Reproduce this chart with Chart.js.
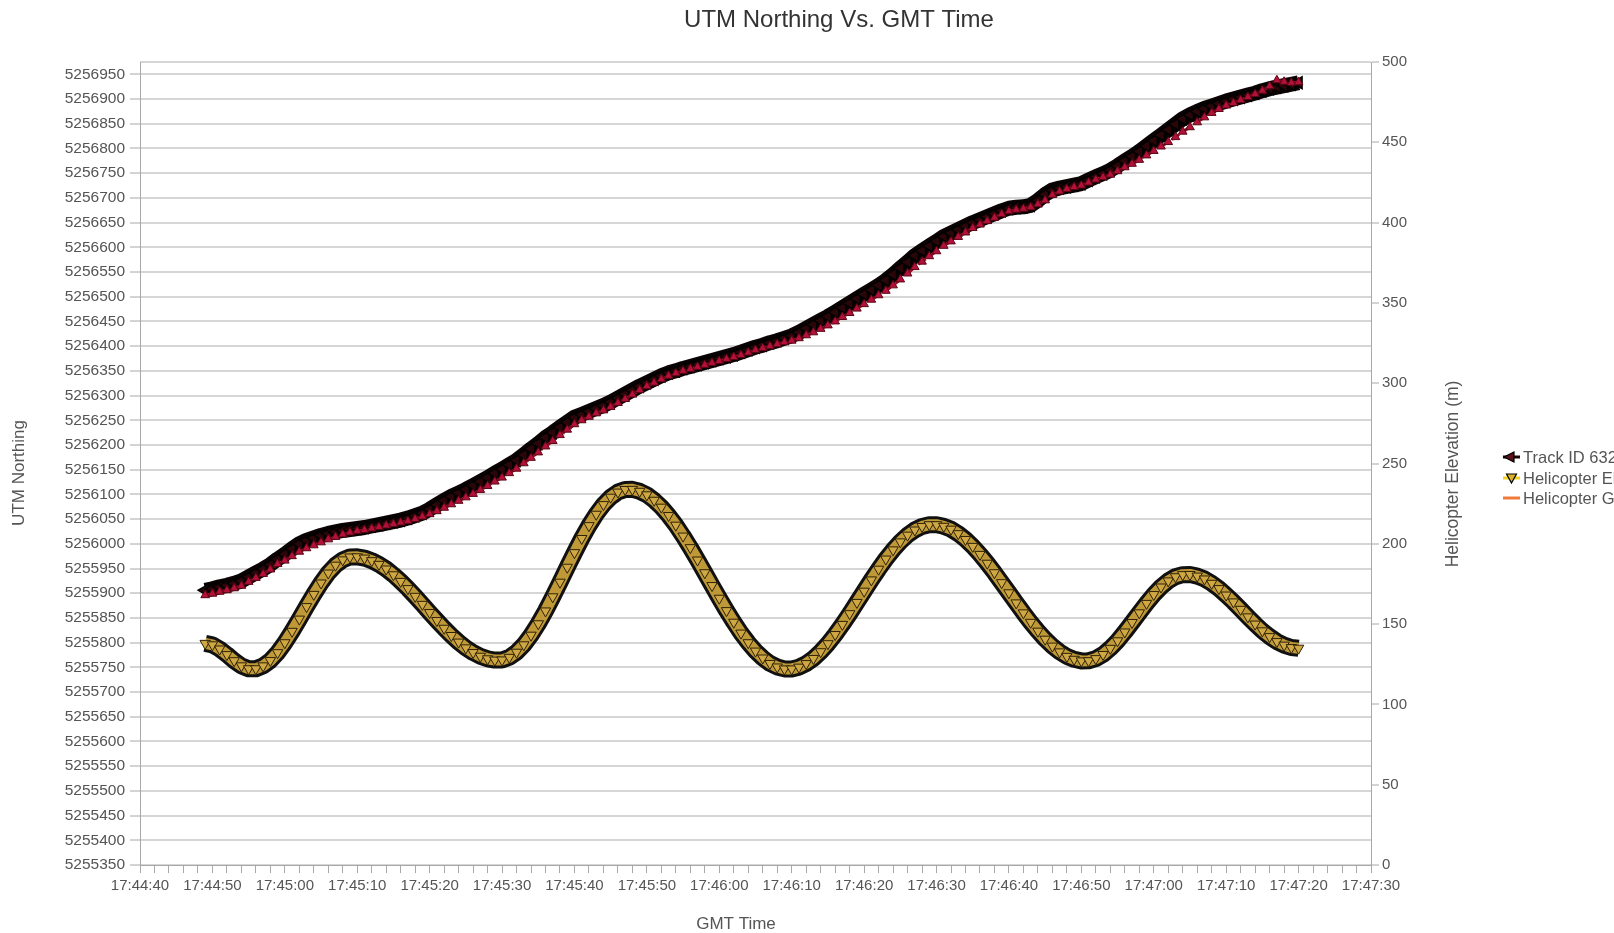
<!DOCTYPE html>
<html>
<head>
<meta charset="utf-8">
<title>UTM Northing Vs. GMT Time</title>
<script src="https://cdn.jsdelivr.net/npm/chart.js@4.4.1/dist/chart.umd.min.js"></script>
<style>
  html, body { margin: 0; padding: 0; background: #ffffff; overflow: hidden; }
  #wrap { width: 1614px; height: 933px; position: relative; }
</style>
</head>
<body>
<div id="wrap"><canvas id="c" width="1614" height="933"></canvas></div>
<script>
// ---------------- DATA ----------------
const chartTitle = 'UTM Northing Vs. GMT Time';
const xTitle = 'GMT Time';
const yLeftTitle = 'UTM Northing';
const yRightTitle = 'Helicopter Elevation (m)';
const seriesNames = ['Track ID 632', 'Helicopter Elevation', 'Helicopter GPS Northing'];

// axis ranges (seconds of day for time)
const xStart = '17:44:40';
const xEnd = '17:47:30';
const sampleStart = '17:44:49';   // first sample, one sample per second
const northingMin = 5255350, northingMax = 5256975, northingStep = 50;
const elevMin = 0, elevMax = 500, elevStep = 50;

// Track ID 632 - UTM northing (m)
const trackNorthing = [
5255906,5255909,5255913,5255916,5255920,5255925,5255933,5255941,5255949,5255958,
5255969,5255979,5255990,5256000,5256007,5256012,5256017,5256021,5256024,5256027,
5256029,5256031,5256033,5256036,5256039,5256042,5256045,5256048,5256052,5256057,
5256062,5256070,5256079,5256088,5256096,5256103,5256110,5256118,5256126,5256134,
5256143,5256151,5256160,5256169,5256180,5256192,5256203,5256215,5256225,5256236,
5256246,5256256,5256262,5256268,5256274,5256280,5256287,5256295,5256303,5256311,
5256319,5256326,5256333,5256340,5256346,5256350,5256355,5256359,5256363,5256367,
5256371,5256375,5256379,5256383,5256388,5256393,5256398,5256402,5256407,5256411,
5256416,5256421,5256428,5256436,5256444,5256452,5256460,5256469,5256478,5256487,
5256496,5256505,5256514,5256523,5256533,5256545,5256558,5256570,5256583,5256593,
5256603,5256612,5256622,5256629,5256636,5256643,5256650,5256656,5256662,5256668,
5256674,5256679,5256681,5256682,5256685,5256695,5256707,5256716,5256720,5256723,
5256726,5256729,5256736,5256743,5256749,5256756,5256765,5256775,5256784,5256794,
5256805,5256816,5256827,5256838,5256849,5256860,5256868,5256875,5256881,5256886,
5256891,5256896,5256900,5256904,5256908,5256912,5256917,5256921,5256924,5256927,
5256930,5256933
];

// Helicopter GPS northing (m)
const gpsNorthing = [
5255896,5255899,5255903,5255906,5255910,5255915,5255923,5255931,5255939,5255948,
5255959,5255966,5255975,5255984,5255991,5255997,5256003,5256009,5256014,5256019,
5256023,5256026,5256028,5256031,5256034,5256037,5256040,5256043,5256046,5256050,
5256055,5256060,5256066,5256073,5256080,5256087,5256094,5256101,5256109,5256117,
5256126,5256134,5256143,5256152,5256163,5256174,5256185,5256197,5256208,5256220,
5256231,5256242,5256250,5256257,5256264,5256270,5256277,5256285,5256293,5256302,
5256311,5256319,5256326,5256333,5256340,5256345,5256350,5256354,5256358,5256362,
5256366,5256370,5256374,5256378,5256382,5256387,5256392,5256396,5256400,5256404,
5256408,5256411,5256416,5256422,5256428,5256435,5256442,5256450,5256459,5256467,
5256476,5256485,5256494,5256503,5256512,5256523,5256535,5256547,5256560,5256571,
5256582,5256592,5256603,5256612,5256621,5256630,5256639,5256646,5256653,5256660,
5256667,5256673,5256676,5256678,5256681,5256687,5256695,5256706,5256713,5256718,
5256722,5256725,5256731,5256737,5256742,5256747,5256754,5256762,5256769,5256777,
5256786,5256795,5256804,5256813,5256823,5256834,5256843,5256853,5256863,5256872,
5256880,5256887,5256892,5256898,5256904,5256910,5256917,5256926,5256938,5256935,
5256933,5256934
];

// Helicopter elevation (m)
const elevation = [
138,137.1,134.5,131,127.2,124,122.2,
122.2,124,127.3,132.2,138.4,145.5,153.1,160.9,168.5,175.6,181.8,186.7,190,191.8,
191.9,191.1,189.5,187.2,184.3,180.7,176.6,172.1,167.3,162.3,157.2,152.2,147.4,142.9,138.8,135.2,132.3,130,128.4,127.6,
127.7,129.3,132.5,137.1,143.1,150.2,158.2,167,176.1,185.4,194.5,203.3,211.3,218.4,224.4,229,232.2,233.8,
233.9,232.7,230.5,227.1,222.8,217.6,211.6,204.8,197.6,189.9,182,174,166.1,158.4,151.2,144.4,138.4,133.2,128.9,125.5,123.3,122.1,
122.1,123.2,125.4,128.6,132.8,137.8,143.5,149.8,156.5,163.5,170.5,177.5,184.2,190.5,196.2,201.2,205.4,208.6,210.8,211.9,
211.9,210.9,209.1,206.3,202.7,198.4,193.4,187.9,182,175.8,169.5,163.2,157,151.1,145.6,140.6,136.3,132.7,129.9,128.1,127.1,
127.2,128.5,131.1,134.9,139.6,145.1,151,157,162.9,168.4,173.1,176.9,179.5,180.8,
180.9,179.9,178.1,175.4,172.1,168.1,163.8,159.2,154.5,150,145.8,142.2,139.1,136.9,135.4,135
];

// ---------------- HELPERS ----------------
function toSec(s) { const p = s.split(':').map(Number); return p[0] * 3600 + p[1] * 60 + p[2]; }
function fmtTime(v) {
  const h = Math.floor(v / 3600), m = Math.floor((v % 3600) / 60), s = Math.round(v % 60);
  const pad = n => (n < 10 ? '0' : '') + n;
  return h + ':' + pad(m) + ':' + pad(s);
}
const t0 = toSec(sampleStart);
const times = trackNorthing.map((_, i) => t0 + i);
const pts = arr => arr.map((v, i) => ({ x: times[i], y: v }));

const FONT = "'Liberation Sans', Arial, Helvetica, sans-serif";
const TICK_COLOR = '#555555';
const GRID_COLOR = '#d6d6d6';
const AXIS_COLOR = '#a8a8a8';

// ---------------- PLUGIN: band outlines ----------------
function strokeMetaPath(ctx, meta, color, width) {
  const p = meta.data;
  if (!p.length) return;
  ctx.beginPath();
  ctx.moveTo(p[0].x, p[0].y);
  for (let i = 1; i < p.length; i++) ctx.lineTo(p[i].x, p[i].y);
  ctx.strokeStyle = color;
  ctx.lineWidth = width;
  ctx.lineJoin = 'round';
  ctx.lineCap = 'butt';
  ctx.stroke();
}
const bandPlugin = {
  id: 'band',
  beforeDatasetDraw(chart, args) {
    const ds = chart.data.datasets[args.index];
    const ctx = chart.ctx;
    ctx.save();
    const a = chart.chartArea;
    ctx.beginPath(); ctx.rect(a.left, a.top, a.right - a.left, a.bottom - a.top); ctx.clip();
    if (ds.band === 'elev') {
      strokeMetaPath(ctx, args.meta, '#111111', 17);
      strokeMetaPath(ctx, args.meta, '#bf9838', 11);
    } else if (ds.band === 'track') {
      strokeMetaPath(ctx, args.meta, '#0a0203', 15);
    }
    ctx.restore();
  }
};

// ---------------- PLUGIN: title, axis titles, legend ----------------
const decorPlugin = {
  id: 'decor',
  afterDraw(chart) {
    const ctx = chart.ctx;
    ctx.save();
    ctx.textAlign = 'center';
    ctx.textBaseline = 'middle';
    // title
    ctx.fillStyle = '#333333';
    ctx.font = '24px ' + FONT;
    ctx.fillText(chartTitle, 839, 20);
    // x axis title
    ctx.fillStyle = '#555555';
    ctx.font = '17px ' + FONT;
    ctx.fillText(xTitle, 736, 924);
    // left axis title
    ctx.save();
    ctx.translate(19, 473);
    ctx.rotate(-Math.PI / 2);
    ctx.font = '17px ' + FONT;
    ctx.fillText(yLeftTitle, 0, 0);
    ctx.restore();
    // right axis title
    ctx.save();
    ctx.translate(1453, 474);
    ctx.rotate(-Math.PI / 2);
    ctx.font = '17.5px ' + FONT;
    ctx.fillText(yRightTitle, 0, 0);
    ctx.restore();
    // legend
    const items = [
      { y: 457, kind: 'track' },
      { y: 478, kind: 'elev' },
      { y: 498, kind: 'gps' }
    ];
    items.forEach((it, i) => {
      const x0 = 1503, x1 = 1520, cy = it.y;
      if (it.kind === 'track') {
        ctx.strokeStyle = '#1a0306'; ctx.lineWidth = 3;
        ctx.beginPath(); ctx.moveTo(x0, cy); ctx.lineTo(x1, cy); ctx.stroke();
        ctx.fillStyle = '#5c1018'; ctx.strokeStyle = '#000'; ctx.lineWidth = 1.2;
        ctx.beginPath(); ctx.moveTo(x0 + 1, cy); ctx.lineTo(x0 + 11, cy - 5); ctx.lineTo(x0 + 11, cy + 5); ctx.closePath();
        ctx.fill(); ctx.stroke();
      } else if (it.kind === 'elev') {
        ctx.strokeStyle = '#f2d21e'; ctx.lineWidth = 3;
        ctx.beginPath(); ctx.moveTo(x0, cy); ctx.lineTo(x1, cy); ctx.stroke();
        const cx = (x0 + x1) / 2;
        ctx.fillStyle = '#d9b02a'; ctx.strokeStyle = '#000'; ctx.lineWidth = 1.2;
        ctx.beginPath(); ctx.moveTo(cx - 5, cy - 4); ctx.lineTo(cx + 5, cy - 4); ctx.lineTo(cx, cy + 5); ctx.closePath();
        ctx.fill(); ctx.stroke();
      } else {
        ctx.strokeStyle = '#f07a3a'; ctx.lineWidth = 3;
        ctx.beginPath(); ctx.moveTo(x0, cy); ctx.lineTo(x1, cy); ctx.stroke();
      }
      ctx.fillStyle = '#555555';
      ctx.font = '16.5px ' + FONT;
      ctx.textAlign = 'left';
      ctx.textBaseline = 'middle';
      ctx.fillText(seriesNames[i], 1523, cy + 1);
    });
    ctx.restore();
  }
};

// ---------------- CHART ----------------
new Chart(document.getElementById('c'), {
  type: 'line',
  data: {
    datasets: [
      {
        label: seriesNames[2],
        data: pts(gpsNorthing),
        yAxisID: 'y',
        order: 0,
        borderColor: '#9e0f2c',
        borderWidth: 3,
        borderDash: [9, 6],
        pointStyle: 'triangle',
        pointRadius: 5,
        pointBackgroundColor: '#b3113a',
        pointBorderColor: '#5a0614',
        pointBorderWidth: 1,
        tension: 0
      },
      {
        label: seriesNames[0],
        band: 'track',
        data: pts(trackNorthing),
        yAxisID: 'y',
        order: 1,
        borderColor: '#000000',
        borderWidth: 6,
        pointStyle: 'triangle',
        rotation: -90,
        pointRadius: 7,
        pointBackgroundColor: '#2a0609',
        pointBorderColor: '#000000',
        pointBorderWidth: 1.5,
        tension: 0
      },
      {
        label: seriesNames[1],
        band: 'elev',
        data: pts(elevation),
        yAxisID: 'y1',
        order: 2,
        showLine: false,
        borderColor: '#000000',
        borderWidth: 0,
        pointStyle: 'triangle',
        rotation: 180,
        pointRadius: 6,
        pointBackgroundColor: '#cfa843',
        pointBorderColor: '#2e2206',
        pointBorderWidth: 1,
        tension: 0
      }
    ]
  },
  options: {
    responsive: false,
    animation: false,
    devicePixelRatio: 1,
    layout: { padding: { top: 62, right: 143, bottom: 0, left: 0 } },
    plugins: {
      legend: { display: false },
      title: { display: false },
      tooltip: { enabled: false }
    },
    scales: {
      x: {
        type: 'linear',
        position: 'bottom',
        min: toSec(xStart),
        max: toSec(xEnd),
        afterFit(scale) { scale.height = 68; },
        grid: { drawOnChartArea: false, drawTicks: true, tickLength: 8, tickColor: AXIS_COLOR },
        border: { display: true, color: AXIS_COLOR, width: 1 },
        ticks: {
          stepSize: 2,
          autoSkip: false,
          maxRotation: 0,
          minRotation: 0,
          padding: 4,
          color: TICK_COLOR,
          font: { family: FONT, size: 15 },
          callback: v => (Math.round(v) % 10 === 0 ? fmtTime(v) : '')
        },
        title: { display: false }
      },
      y: {
        type: 'linear',
        position: 'left',
        min: northingMin,
        max: northingMax,
        afterFit(scale) { scale.width = 140; },
        grid: { color: GRID_COLOR, lineWidth: 2, drawTicks: true, tickLength: 10, tickColor: AXIS_COLOR, tickWidth: 1 },
        border: { display: true, color: AXIS_COLOR, width: 1 },
        ticks: {
          stepSize: northingStep,
          includeBounds: false,
          autoSkip: false,
          padding: 5,
          color: TICK_COLOR,
          font: { family: FONT, size: 15.5 },
          callback: v => String(v)
        },
        title: { display: false }
      },
      y1: {
        type: 'linear',
        position: 'right',
        min: elevMin,
        max: elevMax,
        afterFit(scale) { scale.width = 100; },
        grid: {
          drawOnChartArea: true,
          color: c => (c.tick && c.tick.value === elevMax ? GRID_COLOR : 'rgba(0,0,0,0)'),
          lineWidth: 2,
          drawTicks: true,
          tickLength: 8,
          tickColor: AXIS_COLOR,
          tickWidth: 1
        },
        border: { display: true, color: AXIS_COLOR, width: 1 },
        ticks: {
          stepSize: elevStep,
          autoSkip: false,
          padding: 3,
          color: TICK_COLOR,
          font: { family: FONT, size: 15 }
        },
        title: { display: false }
      }
    }
  },
  plugins: [bandPlugin, decorPlugin]
});
</script>
</body>
</html>
